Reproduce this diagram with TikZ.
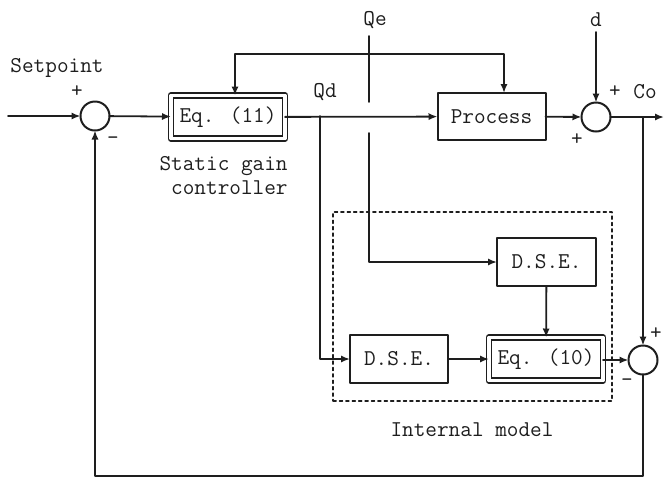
\documentclass[tikz,border=0pt]{standalone}
\usepackage{tikz}
\usetikzlibrary{arrows.meta,positioning,calc}
\definecolor{ink}{HTML}{1E1E1E}
\tikzset{
    every picture/.style={line cap=round,line join=round},
    blockbox/.style={draw=ink,line width=1pt,fill=white,
      minimum width=54pt,minimum height=23.5pt,inner sep=1pt,outer sep=0pt,
      text=ink,font=\ttfamily\fontsize{11.3}{12}\selectfont},
    eqbox/.style={blockbox,double=white,line width=0.9pt,double distance=1.6pt,
      minimum width=57pt,minimum height=21.5pt},
    sumnode/.style={draw=ink,circle,line width=1pt,minimum size=14.5pt,
      inner sep=0pt,outer sep=0pt},
    modelframe/.style={draw=ink,line width=0.6pt,dash pattern=on 1.6pt off 1.6pt},
    flowline/.style={draw=ink,line width=0.9pt},
    flowarrow/.style={flowline,-{Latex[length=4.5pt,width=3.6pt]}},
    sigtext/.style={text=ink,font=\ttfamily\fontsize{11.3}{12}\selectfont,inner sep=0pt}
}

\begin{document}
\begin{tikzpicture}[x=0.5pt,y=-0.5pt]
  \useasboundingbox (0,0) rectangle (664,478);
  % forward path
  \coordinate (in) at (8,116);
  \node[sumnode] (s1) at (95,116) {};
  \node[eqbox] (ctrl) at (228,117) {Eq. (11)};
  \node[blockbox] (proc) at (491.5,116.5) {Process};
  \node[sumnode] (s2) at (596,117) {};
  \coordinate (out) at (664,117);
  % internal model
  \node[modelframe,minimum width=139.5pt,minimum height=94.5pt] (im) at (472.5,306.5) {};
  \node[blockbox,minimum width=49.5pt,minimum height=24pt] (dse1) at (546.5,262) {D.S.E.};
  \node[blockbox,minimum width=49pt,minimum height=24pt] (dse2) at (399,359) {D.S.E.};
  \node[eqbox] (model) at (546,359) {Eq. (10)};
  \node[sumnode] (s3) at (643,360) {};
  % branch points
  \coordinate (qetop) at (369,36);
  \coordinate (qej) at (369,54);
  \coordinate (qegap1) at (369,102);
  \coordinate (qegap2) at (369,133);
  \coordinate (qdj) at (320,116);
  \coordinate (coj) at (643,117);
  \coordinate (dtop) at (596,32);
  \coordinate (fbr) at (643,476);
  \coordinate (fbl) at (95,476);

  \draw[flowarrow] (in) -- (s1);
  \draw[flowarrow] (s1) -- (ctrl);
  \draw[flowarrow] (ctrl) -- (proc);
  \draw[flowarrow] (proc) -- (s2);
  \draw[flowarrow] (s2) -- (out);
  \draw[flowarrow] (dtop) -- (s2);
  \draw[flowline] (qetop) -- (qegap1);
  \draw[flowarrow] (qej) -| ([xshift=3.5pt]ctrl.north);
  \draw[flowarrow] (qej) -| ([xshift=6.25pt]proc.north);
  \draw[flowarrow] (qegap2) |- (dse1);
  \draw[flowarrow] (qdj) |- (dse2);
  \draw[flowarrow] (dse1) -- (model);
  \draw[flowarrow] (dse2) -- (model);
  \draw[flowarrow] (model.east |- s3) -- (s3);
  \draw[flowarrow] (coj) -- (s3);
  \draw[flowarrow] (s3) -- (fbr) -- (fbl) -- (s1);

  % labels
  \node[sigtext] (spl) at (57,68) {Setpoint};
  \node[sigtext] at (77,92) {+};
  \node[sigtext] at (113,141) {-};
  \node[sigtext] (qdl) at (325,92) {Qd};
  \node[sigtext] (qel) at (375,20) {Qe};
  \node[sigtext] (dl) at (596,20) {d};
  \node[sigtext] at (615,92) {+};
  \node[sigtext] (col) at (645,92) {Co};
  \node[sigtext] at (577,140) {+};
  \node[sigtext] at (656,334) {+};
  \node[sigtext] at (627,383) {-};
  \node[sigtext,align=right,anchor=east] (ctrlname) at (288,176) {Static gain\\controller};
  \node[sigtext] (imname) at (472,430) {Internal model};
\end{tikzpicture}
\end{document}
